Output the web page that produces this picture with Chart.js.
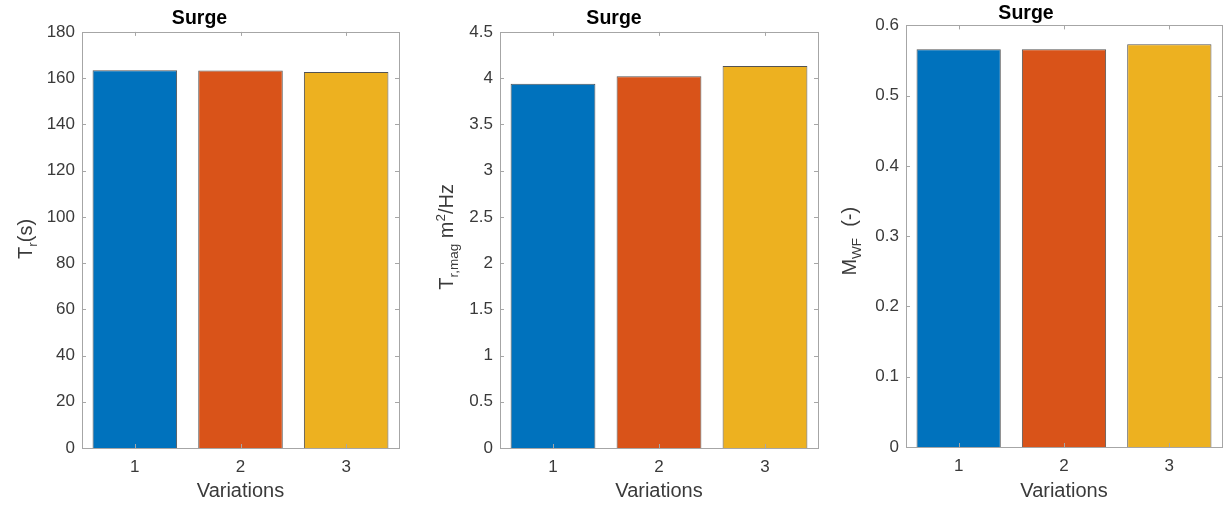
<!DOCTYPE html>
<html>
<head>
<meta charset="utf-8">
<script src="https://cdn.jsdelivr.net/npm/chart.js"></script>
<style>
body{margin:0;background:#fff;width:1229px;height:507px;position:relative;overflow:hidden}
.box{position:absolute;top:0;height:507px}
</style>
</head>
<body>
<div class="box" style="left:0;width:410px"><canvas id="c1"></canvas></div>
<div class="box" style="left:410px;width:420px"><canvas id="c2"></canvas></div>
<div class="box" style="left:830px;width:399px"><canvas id="c3"></canvas></div>
<script>
var variations = ['1', '2', '3'];
var trValues = [163.4, 163.3, 162.6];
var trMagValues = [3.94, 4.02, 4.13];
var mwfValues = [0.566, 0.566, 0.573];
var barColors = ['#0072BD', '#D95319', '#EDB120'];
var titleText = 'Surge';
var xLabel = 'Variations';

var FONT = '"Liberation Sans", Arial, Helvetica, sans-serif';
var TXT = '#3a3a3a';
var AXC = '#a6a6a6';

// axis box + inner tick marks like matlab, and y label with sub/superscripts
var matlabAxes = {
	id: 'matlabAxes',
	afterDraw: function(chart, args, opts) {
		var ctx = chart.ctx, a = chart.chartArea;
		var xs = chart.scales.x, ys = chart.scales.y;
		ctx.save();
		ctx.strokeStyle = AXC;
		ctx.lineWidth = 1;
		ctx.strokeRect(Math.round(a.left) + 0.5, Math.round(a.top) + 0.5, Math.round(a.right - a.left), Math.round(a.bottom - a.top));
		ctx.beginPath();
		for (var i = 0; i < xs.ticks.length; i++) {
			var px = Math.round(xs.getPixelForTick(i)) + 0.5;
			ctx.moveTo(px, a.bottom); ctx.lineTo(px, a.bottom - 4);
			ctx.moveTo(px, a.top); ctx.lineTo(px, a.top + 4);
		}
		for (var j = 0; j < ys.ticks.length; j++) {
			var py = Math.round(ys.getPixelForTick(j)) + 0.5;
			ctx.moveTo(a.left, py); ctx.lineTo(a.left + 4, py);
			ctx.moveTo(a.right, py); ctx.lineTo(a.right - 4, py);
		}
		ctx.stroke();

		// rotated y label
		var parts = opts.parts || [];
		var big = 20, small = 13.5;
		var w = 0;
		for (var k = 0; k < parts.length; k++) {
			ctx.font = (parts[k].s ? small : big) + 'px ' + FONT;
			parts[k].w = ctx.measureText(parts[k].t).width;
			w += parts[k].w;
		}
		ctx.translate(opts.x, (a.top + a.bottom) / 2 + (opts.dy || 0));
		ctx.rotate(-Math.PI / 2);
		ctx.fillStyle = TXT;
		ctx.textBaseline = 'alphabetic';
		ctx.textAlign = 'left';
		var cx = -w / 2;
		for (var m = 0; m < parts.length; m++) {
			var p = parts[m];
			ctx.font = (p.s ? small : big) + 'px ' + FONT;
			var off = p.s === -1 ? 4.5 : (p.s === 1 ? -8 : 0);
			ctx.fillText(p.t, cx, off);
			cx += p.w;
		}
		ctx.restore();
	}
};

function fmt(v) {
	return String(Number(v.toFixed(3)));
}

function makeChart(id, values, yMax, yStep, cfg) {
	var ctx = document.getElementById(id).getContext('2d');
	return new Chart(ctx, {
		type: 'bar',
		data: {
			labels: variations,
			datasets: [{
				data: values,
				backgroundColor: barColors,
				borderColor: 'rgba(40,40,40,0.8)',
				borderWidth: 1,
				barPercentage: 0.8,
				categoryPercentage: 1
			}]
		},
		options: {
			responsive: true,
			maintainAspectRatio: false,
			animation: false,
			layout: { padding: { left: 0, right: cfg.padRight, top: 0, bottom: 0 } },
			plugins: {
				legend: { display: false },
				tooltip: { enabled: false },
				title: {
					display: true,
					text: titleText,
					color: '#000',
					font: { family: FONT, size: 19.5, weight: 'bold' },
					padding: { top: cfg.titleTop, bottom: cfg.titleBottom }
				},
				matlabAxes: { x: cfg.labelX, dy: cfg.labelDy, parts: cfg.parts }
			},
			scales: {
				x: {
					grid: { display: false, drawTicks: false },
					border: { display: false },
					ticks: { color: TXT, padding: 9, maxRotation: 0, font: { family: FONT, size: 17 } },
					title: {
						display: true,
						text: xLabel,
						color: TXT,
						font: { family: FONT, size: 20 },
						padding: { top: 0, bottom: 4 }
					},
					afterFit: function(s) { s.height = cfg.xHeight; }
				},
				y: {
					min: 0,
					max: yMax,
					grid: { display: false, drawTicks: false },
					border: { display: false },
					ticks: {
						stepSize: yStep,
						color: TXT,
						padding: 7,
						font: { family: FONT, size: 17 },
						callback: function(v) { return fmt(v); }
					},
					afterFit: function(s) { s.width = cfg.axisW; }
				}
			}
		},
		plugins: [matlabAxes]
	});
}

makeChart('c1', trValues, 180, 20, {
	axisW: 82, padRight: 11, titleTop: 7, titleBottom: 1.5, xHeight: 59, labelX: 32, labelDy: -1,
	parts: [{ t: 'T', s: 0 }, { t: 'r', s: -1 }, { t: '(s)', s: 0 }]
});
makeChart('c2', trMagValues, 4.5, 0.5, {
	axisW: 90, padRight: 12, titleTop: 7, titleBottom: 1.5, xHeight: 59, labelX: 43, labelDy: -3,
	parts: [{ t: 'T', s: 0 }, { t: 'r,mag', s: -1 }, { t: ' m', s: 0 }, { t: '2', s: 1 }, { t: '/Hz', s: 0 }]
});
makeChart('c3', mwfValues, 0.6, 0.1, {
	axisW: 76, padRight: 7, titleTop: 1.5, titleBottom: 0.5, xHeight: 60, labelX: 26, labelDy: 5,
	parts: [{ t: 'M', s: 0 }, { t: 'WF', s: -1 }, { t: '  (-)', s: 0 }]
});
</script>
</body>
</html>
